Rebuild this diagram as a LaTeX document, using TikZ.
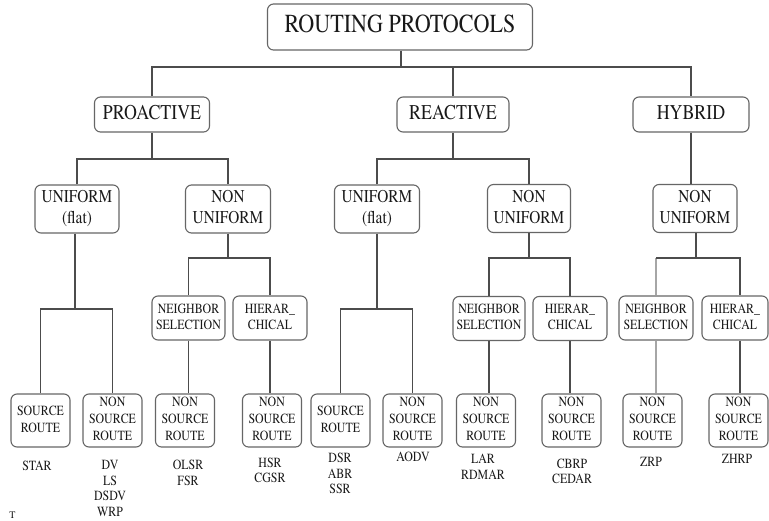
\documentclass[tikz,border=0pt]{standalone}
\usepackage[T1]{fontenc}
\usepackage{mathptmx}
\usepackage{graphicx}
\newcommand\sq[1]{\raisebox{-0.11em}{\scalebox{0.85}[1]{\begin{tabular}{@{}c@{}}#1\end{tabular}}}}
\begin{document}
\begin{tikzpicture}[x=1pt,y=-1pt,
  box/.style={draw=black!60, line width=1.1pt, rounded corners=6pt, inner sep=0pt, align=center, text=black!90},
  rootbox/.style={box, font=\fontsize{26}{28}\selectfont, minimum width=265pt, minimum height=46pt},
  lvlone/.style={box, font=\fontsize{21}{24}\selectfont, minimum height=35pt},
  lvltwo/.style={box, font=\fontsize{18}{21}\selectfont, minimum height=48pt},
  lvlthree/.style={box, font=\fontsize{14}{16}\selectfont, minimum height=44pt},
  leaf/.style={box, font=\fontsize{14}{17}\selectfont, minimum width=59pt, minimum height=53pt},
  lbl/.style={inner sep=0pt, align=center, text=black!90, font=\fontsize{14}{15.5}\selectfont},
  conn/.style={draw=black!70, line width=1.1pt},
  lightconn/.style={draw=black!35, line width=1.1pt}
]
\useasboundingbox[fill=white] (0,0) rectangle (769,520);

% root and first level
\node[rootbox] (root) at (400,27) {\sq{ROUTING PROTOCOLS}};
\node[lvlone, minimum width=115pt] (pro) at (152,114.5) {\sq{PROACTIVE}};
\node[lvlone, minimum width=112pt] (rea) at (453,114.5) {\sq{REACTIVE}};
\node[lvlone, minimum width=116pt] (hyb) at (691,114.5) {\sq{HYBRID}};

% second level
\node[lvltwo, minimum width=84pt] (up) at (77,209) {\sq{UNIFORM\\(flat)}};
\node[lvltwo, minimum width=85pt] (nup) at (228,209) {\sq{NON\\UNIFORM}};
\node[lvltwo, minimum width=85pt] (ur) at (377,209) {\sq{UNIFORM\\(flat)}};
\node[lvltwo, minimum width=83pt] (nur) at (529,208.5) {\sq{NON\\UNIFORM}};
\node[lvltwo, minimum width=84pt] (nuh) at (695,208.5) {\sq{NON\\UNIFORM}};

% third level
\node[lvlthree, minimum width=73pt] (nsp) at (188.5,318) {\sq{NEIGHBOR\\SELECTION}};
\node[lvlthree, minimum width=74pt] (hp) at (270,318) {\sq{HIERAR\_\\CHICAL}};
\node[lvlthree, minimum width=72pt] (nsr) at (489,318.5) {\sq{NEIGHBOR\\SELECTION}};
\node[lvlthree, minimum width=74pt] (hr) at (570,318.5) {\sq{HIERAR\_\\CHICAL}};
\node[lvlthree, minimum width=74pt] (nsh) at (656,318) {\sq{NEIGHBOR\\SELECTION}};
\node[lvlthree, minimum width=66pt] (hh) at (735,318) {\sq{HIERAR\_\\CHICAL}};

% leaves
\node[leaf] (l1) at (40.5,420.5) {\sq{SOURCE\\ROUTE}};
\node[leaf] (l2) at (112.5,420.5) {\sq{NON\\SOURCE\\ROUTE}};
\node[leaf] (l3) at (185,420.5) {\sq{NON\\SOURCE\\ROUTE}};
\node[leaf] (l4) at (272,420.5) {\sq{NON\\SOURCE\\ROUTE}};
\node[leaf] (l5) at (340.5,420.5) {\sq{SOURCE\\ROUTE}};
\node[leaf] (l6) at (412.5,420.5) {\sq{NON\\SOURCE\\ROUTE}};
\node[leaf] (l7) at (486,420.5) {\sq{NON\\SOURCE\\ROUTE}};
\node[leaf] (l8) at (571.5,420.5) {\sq{NON\\SOURCE\\ROUTE}};
\node[leaf] (l9) at (652.5,420.5) {\sq{NON\\SOURCE\\ROUTE}};
\node[leaf] (l10) at (738.5,420.5) {\sq{NON\\SOURCE\\ROUTE}};

% labels
\node[lbl] (t1) at (37,467) {\sq{STAR}};
\node[lbl] (t2) at (110,490) {\sq{DV\\LS\\DSDV\\WRP}};
\node[lbl] (t3) at (188,474.5) {\sq{OLSR\\FSR}};
\node[lbl] (t4) at (270,472) {\sq{HSR\\CGSR}};
\node[lbl] (t5) at (340,475) {\sq{DSR\\ABR\\SSR}};
\node[lbl] (t6) at (413,458) {\sq{AODV}};
\node[lbl] (t7) at (483,468.5) {\sq{LAR\\RDMAR}};
\node[lbl] (t8) at (572,473) {\sq{CBRP\\CEDAR}};
\node[lbl] (t9) at (651,463) {\sq{ZRP}};
\node[lbl] (t10) at (737,460) {\sq{ZHRP}};
\node[lbl, font=\fontsize{10}{10}\selectfont, anchor=south] (frag) at (12.5,519) {T};

% junction coordinates
\coordinate (j0) at (401,67);
\coordinate (jp) at (152,159);
\coordinate (jr) at (453,159);
\coordinate (jnup) at (228,258);
\coordinate (jnur) at (529,258);
\coordinate (jnuh) at (696,258);
\coordinate (jup) at (75,309);
\coordinate (jur) at (377,309);

% connectors
\draw[conn] (root.south -| j0) -- (j0);
\draw[conn] (pro.north) -- (pro.north |- j0) -- (hyb.north |- j0) -- (hyb.north);
\draw[conn] (rea.north) -- (rea.north |- j0);

\draw[conn] (pro.south) -- (jp);
\draw[conn] (up.north) -- (up.north |- jp) -- (nup.north |- jp) -- (nup.north);
\draw[conn] (rea.south) -- (jr);
\draw[conn] (ur.north) -- (ur.north |- jr) -- (nur.north |- jr) -- (nur.north);
\draw[conn] (hyb.south) -- (hyb.south |- nuh.north);

\draw[conn] (nup.south -| jnup) -- (jnup);
\draw[conn] (nsp.north) -- (nsp.north |- jnup) -- (hp.north |- jnup) -- (hp.north);
\draw[conn] (nur.south) -- (jnur);
\draw[conn] (nsr.north) -- (nsr.north |- jnur) -- (hr.north |- jnur) -- (hr.north);
\draw[conn] (nuh.south -| jnuh) -- (jnuh);
\draw[lightconn] (nsh.north) -- (nsh.north |- jnuh);
\draw[conn] (nsh.north |- jnuh) -- ([xshift=5pt]hh.north |- jnuh) -- ([xshift=5pt]hh.north);

\draw[conn] (up.south -| jup) -- (jup);
\draw[conn] (l1.north) -- (l1.north |- jup) -- (l2.north |- jup) -- (l2.north);
\draw[conn] (ur.south) -- (jur);
\draw[conn] (l5.north) -- (l5.north |- jur) -- (l6.north |- jur) -- (l6.north);

\draw[conn] (nsp.south) -- (nsp.south |- l3.north);
\draw[conn] (hp.south) -- (hp.south |- l4.north);
\draw[conn] (nsr.south) -- (nsr.south |- l7.north);
\draw[conn] (hr.south) -- (hr.south |- l8.north);
\draw[lightconn] (nsh.south) -- (nsh.south |- l9.north);
\draw[conn] ([xshift=5pt]hh.south) -- ([xshift=5pt]hh.south |- l10.north);
\end{tikzpicture}
\end{document}
